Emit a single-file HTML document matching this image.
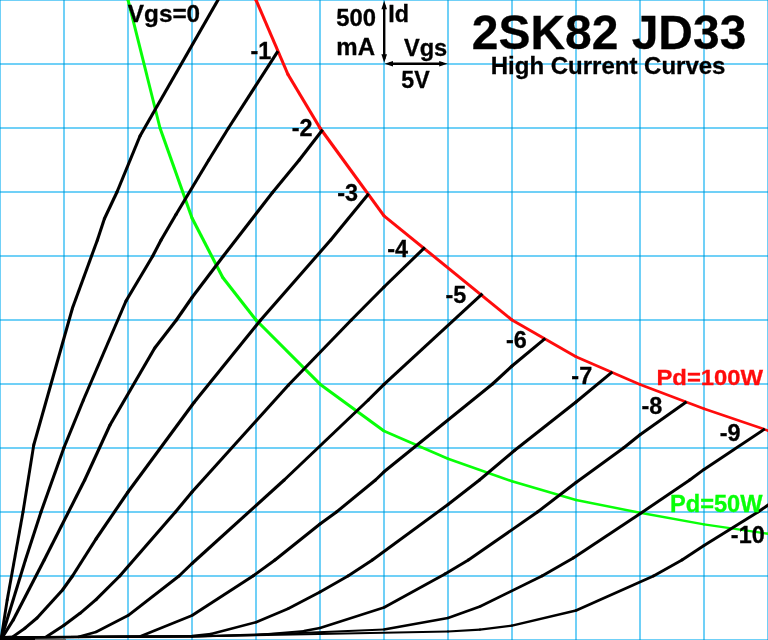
<!DOCTYPE html>
<html lang="en">
<head>
<meta charset="utf-8">
<title>2SK82 JD33 High Current Curves</title>
<style>
html,body{margin:0;padding:0;background:#fff;}
body{width:768px;height:640px;overflow:hidden;}
svg{display:block;}
text{font-family:"Liberation Sans",sans-serif;font-weight:bold;}
</style>
</head>
<body>
<svg width="768" height="640" viewBox="0 0 768 640">
<rect width="768" height="640" fill="#fff"/>
<g fill="rgb(112,208,247)" shape-rendering="crispEdges">
<rect x="-1" y="0" width="2" height="640"/>
<rect x="63" y="0" width="2" height="640"/>
<rect x="127" y="0" width="2" height="640"/>
<rect x="191" y="0" width="2" height="640"/>
<rect x="255" y="0" width="2" height="640"/>
<rect x="319" y="0" width="2" height="640"/>
<rect x="383" y="0" width="2" height="640"/>
<rect x="447" y="0" width="2" height="640"/>
<rect x="511" y="0" width="2" height="640"/>
<rect x="575" y="0" width="2" height="640"/>
<rect x="639" y="0" width="2" height="640"/>
<rect x="703" y="0" width="2" height="640"/>
<rect x="767" y="0" width="2" height="640"/>
<rect x="0" y="-1" width="768" height="2"/>
<rect x="0" y="63" width="768" height="2"/>
<rect x="0" y="127" width="768" height="2"/>
<rect x="0" y="191" width="768" height="2"/>
<rect x="0" y="255" width="768" height="2"/>
<rect x="0" y="319" width="768" height="2"/>
<rect x="0" y="383" width="768" height="2"/>
<rect x="0" y="447" width="768" height="2"/>
<rect x="0" y="511" width="768" height="2"/>
<rect x="0" y="575" width="768" height="2"/>
<rect x="0" y="639" width="768" height="2"/>
</g>
<g fill="rgb(52,178,226)" shape-rendering="crispEdges">
<rect x="-1" y="-1" width="2" height="2"/>
<rect x="-1" y="63" width="2" height="2"/>
<rect x="-1" y="127" width="2" height="2"/>
<rect x="-1" y="191" width="2" height="2"/>
<rect x="-1" y="255" width="2" height="2"/>
<rect x="-1" y="319" width="2" height="2"/>
<rect x="-1" y="383" width="2" height="2"/>
<rect x="-1" y="447" width="2" height="2"/>
<rect x="-1" y="511" width="2" height="2"/>
<rect x="-1" y="575" width="2" height="2"/>
<rect x="-1" y="639" width="2" height="2"/>
<rect x="63" y="-1" width="2" height="2"/>
<rect x="63" y="63" width="2" height="2"/>
<rect x="63" y="127" width="2" height="2"/>
<rect x="63" y="191" width="2" height="2"/>
<rect x="63" y="255" width="2" height="2"/>
<rect x="63" y="319" width="2" height="2"/>
<rect x="63" y="383" width="2" height="2"/>
<rect x="63" y="447" width="2" height="2"/>
<rect x="63" y="511" width="2" height="2"/>
<rect x="63" y="575" width="2" height="2"/>
<rect x="63" y="639" width="2" height="2"/>
<rect x="127" y="-1" width="2" height="2"/>
<rect x="127" y="63" width="2" height="2"/>
<rect x="127" y="127" width="2" height="2"/>
<rect x="127" y="191" width="2" height="2"/>
<rect x="127" y="255" width="2" height="2"/>
<rect x="127" y="319" width="2" height="2"/>
<rect x="127" y="383" width="2" height="2"/>
<rect x="127" y="447" width="2" height="2"/>
<rect x="127" y="511" width="2" height="2"/>
<rect x="127" y="575" width="2" height="2"/>
<rect x="127" y="639" width="2" height="2"/>
<rect x="191" y="-1" width="2" height="2"/>
<rect x="191" y="63" width="2" height="2"/>
<rect x="191" y="127" width="2" height="2"/>
<rect x="191" y="191" width="2" height="2"/>
<rect x="191" y="255" width="2" height="2"/>
<rect x="191" y="319" width="2" height="2"/>
<rect x="191" y="383" width="2" height="2"/>
<rect x="191" y="447" width="2" height="2"/>
<rect x="191" y="511" width="2" height="2"/>
<rect x="191" y="575" width="2" height="2"/>
<rect x="191" y="639" width="2" height="2"/>
<rect x="255" y="-1" width="2" height="2"/>
<rect x="255" y="63" width="2" height="2"/>
<rect x="255" y="127" width="2" height="2"/>
<rect x="255" y="191" width="2" height="2"/>
<rect x="255" y="255" width="2" height="2"/>
<rect x="255" y="319" width="2" height="2"/>
<rect x="255" y="383" width="2" height="2"/>
<rect x="255" y="447" width="2" height="2"/>
<rect x="255" y="511" width="2" height="2"/>
<rect x="255" y="575" width="2" height="2"/>
<rect x="255" y="639" width="2" height="2"/>
<rect x="319" y="-1" width="2" height="2"/>
<rect x="319" y="63" width="2" height="2"/>
<rect x="319" y="127" width="2" height="2"/>
<rect x="319" y="191" width="2" height="2"/>
<rect x="319" y="255" width="2" height="2"/>
<rect x="319" y="319" width="2" height="2"/>
<rect x="319" y="383" width="2" height="2"/>
<rect x="319" y="447" width="2" height="2"/>
<rect x="319" y="511" width="2" height="2"/>
<rect x="319" y="575" width="2" height="2"/>
<rect x="319" y="639" width="2" height="2"/>
<rect x="383" y="-1" width="2" height="2"/>
<rect x="383" y="63" width="2" height="2"/>
<rect x="383" y="127" width="2" height="2"/>
<rect x="383" y="191" width="2" height="2"/>
<rect x="383" y="255" width="2" height="2"/>
<rect x="383" y="319" width="2" height="2"/>
<rect x="383" y="383" width="2" height="2"/>
<rect x="383" y="447" width="2" height="2"/>
<rect x="383" y="511" width="2" height="2"/>
<rect x="383" y="575" width="2" height="2"/>
<rect x="383" y="639" width="2" height="2"/>
<rect x="447" y="-1" width="2" height="2"/>
<rect x="447" y="63" width="2" height="2"/>
<rect x="447" y="127" width="2" height="2"/>
<rect x="447" y="191" width="2" height="2"/>
<rect x="447" y="255" width="2" height="2"/>
<rect x="447" y="319" width="2" height="2"/>
<rect x="447" y="383" width="2" height="2"/>
<rect x="447" y="447" width="2" height="2"/>
<rect x="447" y="511" width="2" height="2"/>
<rect x="447" y="575" width="2" height="2"/>
<rect x="447" y="639" width="2" height="2"/>
<rect x="511" y="-1" width="2" height="2"/>
<rect x="511" y="63" width="2" height="2"/>
<rect x="511" y="127" width="2" height="2"/>
<rect x="511" y="191" width="2" height="2"/>
<rect x="511" y="255" width="2" height="2"/>
<rect x="511" y="319" width="2" height="2"/>
<rect x="511" y="383" width="2" height="2"/>
<rect x="511" y="447" width="2" height="2"/>
<rect x="511" y="511" width="2" height="2"/>
<rect x="511" y="575" width="2" height="2"/>
<rect x="511" y="639" width="2" height="2"/>
<rect x="575" y="-1" width="2" height="2"/>
<rect x="575" y="63" width="2" height="2"/>
<rect x="575" y="127" width="2" height="2"/>
<rect x="575" y="191" width="2" height="2"/>
<rect x="575" y="255" width="2" height="2"/>
<rect x="575" y="319" width="2" height="2"/>
<rect x="575" y="383" width="2" height="2"/>
<rect x="575" y="447" width="2" height="2"/>
<rect x="575" y="511" width="2" height="2"/>
<rect x="575" y="575" width="2" height="2"/>
<rect x="575" y="639" width="2" height="2"/>
<rect x="639" y="-1" width="2" height="2"/>
<rect x="639" y="63" width="2" height="2"/>
<rect x="639" y="127" width="2" height="2"/>
<rect x="639" y="191" width="2" height="2"/>
<rect x="639" y="255" width="2" height="2"/>
<rect x="639" y="319" width="2" height="2"/>
<rect x="639" y="383" width="2" height="2"/>
<rect x="639" y="447" width="2" height="2"/>
<rect x="639" y="511" width="2" height="2"/>
<rect x="639" y="575" width="2" height="2"/>
<rect x="639" y="639" width="2" height="2"/>
<rect x="703" y="-1" width="2" height="2"/>
<rect x="703" y="63" width="2" height="2"/>
<rect x="703" y="127" width="2" height="2"/>
<rect x="703" y="191" width="2" height="2"/>
<rect x="703" y="255" width="2" height="2"/>
<rect x="703" y="319" width="2" height="2"/>
<rect x="703" y="383" width="2" height="2"/>
<rect x="703" y="447" width="2" height="2"/>
<rect x="703" y="511" width="2" height="2"/>
<rect x="703" y="575" width="2" height="2"/>
<rect x="703" y="639" width="2" height="2"/>
<rect x="767" y="-1" width="2" height="2"/>
<rect x="767" y="63" width="2" height="2"/>
<rect x="767" y="127" width="2" height="2"/>
<rect x="767" y="191" width="2" height="2"/>
<rect x="767" y="255" width="2" height="2"/>
<rect x="767" y="319" width="2" height="2"/>
<rect x="767" y="383" width="2" height="2"/>
<rect x="767" y="447" width="2" height="2"/>
<rect x="767" y="511" width="2" height="2"/>
<rect x="767" y="575" width="2" height="2"/>
<rect x="767" y="639" width="2" height="2"/>
</g>
<rect x="0" y="636" width="35" height="4" fill="#000"/>
<rect x="35" y="638.8" width="31" height="1.2" fill="#666"/>
<g stroke="#08ff08" fill="#08ff08">
<line x1="127.25" y1="-3.00" x2="128.00" y2="0.00" stroke-width="3.01"/>
<line x1="128.00" y1="0.00" x2="160.00" y2="128.00" stroke-width="3.01"/>
<line x1="160.00" y1="128.00" x2="192.00" y2="218.00" stroke-width="3.08"/>
<line x1="192.00" y1="218.00" x2="222.75" y2="277.50" stroke-width="3.13"/>
<line x1="222.75" y1="277.50" x2="256.00" y2="320.00" stroke-width="3.14"/>
<line x1="256.00" y1="320.00" x2="320.00" y2="384.20" stroke-width="3.10"/>
<line x1="320.00" y1="384.20" x2="384.00" y2="431.00" stroke-width="2.99"/>
<line x1="384.00" y1="431.00" x2="448.00" y2="458.75" stroke-width="2.74"/>
<line x1="448.00" y1="458.75" x2="512.00" y2="481.30" stroke-width="2.65"/>
<line x1="512.00" y1="481.30" x2="576.00" y2="500.00" stroke-width="2.57"/>
<line x1="576.00" y1="500.00" x2="640.00" y2="512.75" stroke-width="2.43"/>
<line x1="640.00" y1="512.75" x2="704.00" y2="524.40" stroke-width="2.40"/>
<line x1="704.00" y1="524.40" x2="768.00" y2="533.75" stroke-width="2.34"/>
<line x1="768.00" y1="533.75" x2="772.00" y2="534.30" stroke-width="2.33"/>
<circle cx="128.00" cy="0.00" r="1.51" stroke="none"/>
<circle cx="160.00" cy="128.00" r="1.51" stroke="none"/>
<circle cx="192.00" cy="218.00" r="1.54" stroke="none"/>
<circle cx="222.75" cy="277.50" r="1.56" stroke="none"/>
<circle cx="256.00" cy="320.00" r="1.55" stroke="none"/>
<circle cx="320.00" cy="384.20" r="1.49" stroke="none"/>
<circle cx="384.00" cy="431.00" r="1.37" stroke="none"/>
<circle cx="448.00" cy="458.75" r="1.32" stroke="none"/>
<circle cx="512.00" cy="481.30" r="1.28" stroke="none"/>
<circle cx="576.00" cy="500.00" r="1.21" stroke="none"/>
<circle cx="640.00" cy="512.75" r="1.20" stroke="none"/>
<circle cx="704.00" cy="524.40" r="1.17" stroke="none"/>
<circle cx="768.00" cy="533.75" r="1.17" stroke="none"/>
</g>
<g stroke="#ff0c0c" fill="#ff0c0c">
<line x1="254.70" y1="-3.00" x2="256.00" y2="0.00" stroke-width="3.11"/>
<line x1="256.00" y1="0.00" x2="288.00" y2="74.50" stroke-width="3.11"/>
<line x1="288.00" y1="74.50" x2="320.00" y2="128.00" stroke-width="3.14"/>
<line x1="320.00" y1="128.00" x2="384.00" y2="215.80" stroke-width="3.14"/>
<line x1="384.00" y1="215.80" x2="512.00" y2="320.00" stroke-width="3.03"/>
<line x1="512.00" y1="320.00" x2="576.00" y2="356.70" stroke-width="2.88"/>
<line x1="576.00" y1="356.70" x2="640.00" y2="384.40" stroke-width="2.74"/>
<line x1="640.00" y1="384.40" x2="704.00" y2="408.75" stroke-width="2.68"/>
<line x1="704.00" y1="408.75" x2="768.00" y2="430.60" stroke-width="2.63"/>
<line x1="768.00" y1="430.60" x2="772.00" y2="431.90" stroke-width="2.61"/>
<circle cx="256.00" cy="0.00" r="1.55" stroke="none"/>
<circle cx="288.00" cy="74.50" r="1.55" stroke="none"/>
<circle cx="320.00" cy="128.00" r="1.57" stroke="none"/>
<circle cx="384.00" cy="215.80" r="1.52" stroke="none"/>
<circle cx="512.00" cy="320.00" r="1.44" stroke="none"/>
<circle cx="576.00" cy="356.70" r="1.37" stroke="none"/>
<circle cx="640.00" cy="384.40" r="1.34" stroke="none"/>
<circle cx="704.00" cy="408.75" r="1.32" stroke="none"/>
<circle cx="768.00" cy="430.60" r="1.31" stroke="none"/>
</g>
<g stroke="#000" fill="#000">
<line x1="1.00" y1="639.50" x2="7.20" y2="600.00" stroke-width="2.94"/>
<line x1="7.20" y1="600.00" x2="23.00" y2="512.00" stroke-width="2.96"/>
<line x1="23.00" y1="512.00" x2="33.75" y2="445.00" stroke-width="2.95"/>
<line x1="33.75" y1="445.00" x2="72.50" y2="308.00" stroke-width="3.04"/>
<line x1="72.50" y1="308.00" x2="97.40" y2="240.00" stroke-width="3.08"/>
<line x1="97.40" y1="240.00" x2="104.40" y2="218.75" stroke-width="3.06"/>
<line x1="104.40" y1="218.75" x2="117.00" y2="192.00" stroke-width="3.12"/>
<line x1="117.00" y1="192.00" x2="140.00" y2="136.00" stroke-width="3.10"/>
<line x1="140.00" y1="136.00" x2="219.70" y2="-3.00" stroke-width="3.14"/>
<circle cx="7.20" cy="600.00" r="1.47" stroke="none"/>
<circle cx="23.00" cy="512.00" r="1.47" stroke="none"/>
<circle cx="33.75" cy="445.00" r="1.47" stroke="none"/>
<circle cx="72.50" cy="308.00" r="1.52" stroke="none"/>
<circle cx="97.40" cy="240.00" r="1.53" stroke="none"/>
<circle cx="104.40" cy="218.75" r="1.53" stroke="none"/>
<circle cx="117.00" cy="192.00" r="1.55" stroke="none"/>
<circle cx="140.00" cy="136.00" r="1.55" stroke="none"/>
</g>
<g stroke="#000" fill="#000">
<line x1="1.00" y1="639.50" x2="25.40" y2="560.00" stroke-width="3.05"/>
<line x1="25.40" y1="560.00" x2="41.00" y2="512.00" stroke-width="3.06"/>
<line x1="41.00" y1="512.00" x2="64.00" y2="447.50" stroke-width="3.08"/>
<line x1="64.00" y1="447.50" x2="83.40" y2="400.00" stroke-width="3.10"/>
<line x1="83.40" y1="400.00" x2="126.00" y2="301.00" stroke-width="3.11"/>
<line x1="126.00" y1="301.00" x2="152.75" y2="256.00" stroke-width="3.14"/>
<line x1="152.75" y1="256.00" x2="161.10" y2="240.00" stroke-width="3.13"/>
<line x1="161.10" y1="240.00" x2="176.00" y2="214.50" stroke-width="3.14"/>
<line x1="176.00" y1="214.50" x2="208.75" y2="160.00" stroke-width="3.14"/>
<line x1="208.75" y1="160.00" x2="228.50" y2="128.00" stroke-width="3.14"/>
<line x1="228.50" y1="128.00" x2="277.94" y2="51.16" stroke-width="3.14"/>
<circle cx="25.40" cy="560.00" r="1.52" stroke="none"/>
<circle cx="41.00" cy="512.00" r="1.53" stroke="none"/>
<circle cx="64.00" cy="447.50" r="1.54" stroke="none"/>
<circle cx="83.40" cy="400.00" r="1.55" stroke="none"/>
<circle cx="126.00" cy="301.00" r="1.55" stroke="none"/>
<circle cx="152.75" cy="256.00" r="1.57" stroke="none"/>
<circle cx="161.10" cy="240.00" r="1.57" stroke="none"/>
<circle cx="176.00" cy="214.50" r="1.57" stroke="none"/>
<circle cx="208.75" cy="160.00" r="1.57" stroke="none"/>
<circle cx="228.50" cy="128.00" r="1.57" stroke="none"/>
</g>
<g stroke="#000" fill="#000">
<line x1="1.00" y1="639.50" x2="13.20" y2="620.00" stroke-width="3.14"/>
<line x1="13.20" y1="620.00" x2="44.20" y2="560.00" stroke-width="3.13"/>
<line x1="44.20" y1="560.00" x2="84.70" y2="480.00" stroke-width="3.13"/>
<line x1="84.70" y1="480.00" x2="110.00" y2="425.00" stroke-width="3.12"/>
<line x1="110.00" y1="425.00" x2="154.75" y2="348.00" stroke-width="3.14"/>
<line x1="154.75" y1="348.00" x2="176.40" y2="320.00" stroke-width="3.14"/>
<line x1="176.40" y1="320.00" x2="192.00" y2="297.50" stroke-width="3.14"/>
<line x1="192.00" y1="297.50" x2="223.40" y2="256.00" stroke-width="3.14"/>
<line x1="223.40" y1="256.00" x2="272.50" y2="192.50" stroke-width="3.14"/>
<line x1="272.50" y1="192.50" x2="299.25" y2="160.00" stroke-width="3.13"/>
<line x1="299.25" y1="160.00" x2="322.61" y2="129.81" stroke-width="3.14"/>
<circle cx="13.20" cy="620.00" r="1.56" stroke="none"/>
<circle cx="44.20" cy="560.00" r="1.56" stroke="none"/>
<circle cx="84.70" cy="480.00" r="1.56" stroke="none"/>
<circle cx="110.00" cy="425.00" r="1.56" stroke="none"/>
<circle cx="154.75" cy="348.00" r="1.57" stroke="none"/>
<circle cx="176.40" cy="320.00" r="1.57" stroke="none"/>
<circle cx="192.00" cy="297.50" r="1.57" stroke="none"/>
<circle cx="223.40" cy="256.00" r="1.57" stroke="none"/>
<circle cx="272.50" cy="192.50" r="1.57" stroke="none"/>
<circle cx="299.25" cy="160.00" r="1.57" stroke="none"/>
</g>
<g stroke="#000" fill="#000">
<line x1="0.00" y1="637.40" x2="13.00" y2="636.60" stroke-width="2.20"/>
<line x1="13.00" y1="636.60" x2="25.00" y2="628.20" stroke-width="2.97"/>
<line x1="25.00" y1="628.20" x2="37.00" y2="618.00" stroke-width="3.05"/>
<line x1="37.00" y1="618.00" x2="62.50" y2="590.00" stroke-width="3.12"/>
<line x1="62.50" y1="590.00" x2="72.50" y2="576.00" stroke-width="3.14"/>
<line x1="72.50" y1="576.00" x2="96.00" y2="539.00" stroke-width="3.14"/>
<line x1="96.00" y1="539.00" x2="128.00" y2="492.00" stroke-width="3.14"/>
<line x1="128.00" y1="492.00" x2="194.00" y2="402.50" stroke-width="3.14"/>
<line x1="194.00" y1="402.50" x2="260.70" y2="320.00" stroke-width="3.13"/>
<line x1="260.70" y1="320.00" x2="330.70" y2="240.00" stroke-width="3.12"/>
<line x1="330.70" y1="240.00" x2="368.63" y2="193.73" stroke-width="3.13"/>
<circle cx="13.00" cy="636.60" r="1.10" stroke="none"/>
<circle cx="25.00" cy="628.20" r="1.49" stroke="none"/>
<circle cx="37.00" cy="618.00" r="1.52" stroke="none"/>
<circle cx="62.50" cy="590.00" r="1.56" stroke="none"/>
<circle cx="72.50" cy="576.00" r="1.57" stroke="none"/>
<circle cx="96.00" cy="539.00" r="1.57" stroke="none"/>
<circle cx="128.00" cy="492.00" r="1.57" stroke="none"/>
<circle cx="194.00" cy="402.50" r="1.57" stroke="none"/>
<circle cx="260.70" cy="320.00" r="1.56" stroke="none"/>
<circle cx="330.70" cy="240.00" r="1.56" stroke="none"/>
</g>
<g stroke="#000" fill="#000">
<line x1="0.00" y1="637.40" x2="46.00" y2="637.00" stroke-width="2.11"/>
<line x1="46.00" y1="637.00" x2="64.00" y2="625.30" stroke-width="2.94"/>
<line x1="64.00" y1="625.30" x2="80.00" y2="613.30" stroke-width="3.00"/>
<line x1="80.00" y1="613.30" x2="96.00" y2="599.70" stroke-width="3.05"/>
<line x1="96.00" y1="599.70" x2="119.75" y2="576.00" stroke-width="3.09"/>
<line x1="119.75" y1="576.00" x2="175.40" y2="512.00" stroke-width="3.12"/>
<line x1="175.40" y1="512.00" x2="192.00" y2="492.00" stroke-width="3.13"/>
<line x1="192.00" y1="492.00" x2="288.50" y2="385.00" stroke-width="3.12"/>
<line x1="288.50" y1="385.00" x2="351.30" y2="320.00" stroke-width="3.10"/>
<line x1="351.30" y1="320.00" x2="384.00" y2="287.00" stroke-width="3.10"/>
<line x1="384.00" y1="287.00" x2="424.92" y2="247.30" stroke-width="3.09"/>
<circle cx="46.00" cy="637.00" r="1.06" stroke="none"/>
<circle cx="64.00" cy="625.30" r="1.47" stroke="none"/>
<circle cx="80.00" cy="613.30" r="1.50" stroke="none"/>
<circle cx="96.00" cy="599.70" r="1.52" stroke="none"/>
<circle cx="119.75" cy="576.00" r="1.55" stroke="none"/>
<circle cx="175.40" cy="512.00" r="1.56" stroke="none"/>
<circle cx="192.00" cy="492.00" r="1.56" stroke="none"/>
<circle cx="288.50" cy="385.00" r="1.55" stroke="none"/>
<circle cx="351.30" cy="320.00" r="1.55" stroke="none"/>
<circle cx="384.00" cy="287.00" r="1.54" stroke="none"/>
</g>
<g stroke="#000" fill="#000">
<line x1="0.00" y1="637.40" x2="78.00" y2="637.00" stroke-width="2.11"/>
<line x1="78.00" y1="637.00" x2="96.00" y2="632.00" stroke-width="2.55"/>
<line x1="96.00" y1="632.00" x2="128.00" y2="615.60" stroke-width="2.83"/>
<line x1="128.00" y1="615.60" x2="179.00" y2="576.00" stroke-width="3.01"/>
<line x1="179.00" y1="576.00" x2="192.00" y2="563.50" stroke-width="3.08"/>
<line x1="192.00" y1="563.50" x2="284.20" y2="480.00" stroke-width="3.07"/>
<line x1="284.20" y1="480.00" x2="368.30" y2="400.00" stroke-width="3.08"/>
<line x1="368.30" y1="400.00" x2="384.00" y2="384.40" stroke-width="3.09"/>
<line x1="384.00" y1="384.40" x2="482.49" y2="293.72" stroke-width="3.07"/>
<circle cx="78.00" cy="637.00" r="1.05" stroke="none"/>
<circle cx="96.00" cy="632.00" r="1.27" stroke="none"/>
<circle cx="128.00" cy="615.60" r="1.41" stroke="none"/>
<circle cx="179.00" cy="576.00" r="1.51" stroke="none"/>
<circle cx="192.00" cy="563.50" r="1.53" stroke="none"/>
<circle cx="284.20" cy="480.00" r="1.53" stroke="none"/>
<circle cx="368.30" cy="400.00" r="1.54" stroke="none"/>
<circle cx="384.00" cy="384.40" r="1.54" stroke="none"/>
</g>
<g stroke="#000" fill="#000">
<line x1="0.00" y1="637.40" x2="140.00" y2="636.50" stroke-width="2.11"/>
<line x1="140.00" y1="636.50" x2="192.00" y2="615.50" stroke-width="2.71"/>
<line x1="192.00" y1="615.50" x2="253.00" y2="576.00" stroke-width="2.94"/>
<line x1="253.00" y1="576.00" x2="275.00" y2="560.00" stroke-width="2.99"/>
<line x1="275.00" y1="560.00" x2="320.00" y2="524.00" stroke-width="3.03"/>
<line x1="320.00" y1="524.00" x2="336.50" y2="512.00" stroke-width="2.99"/>
<line x1="336.50" y1="512.00" x2="375.50" y2="480.00" stroke-width="3.03"/>
<line x1="375.50" y1="480.00" x2="384.00" y2="471.80" stroke-width="3.09"/>
<line x1="384.00" y1="471.80" x2="492.50" y2="384.00" stroke-width="3.03"/>
<line x1="492.50" y1="384.00" x2="512.00" y2="366.00" stroke-width="3.07"/>
<line x1="512.00" y1="366.00" x2="545.27" y2="338.36" stroke-width="3.04"/>
<circle cx="140.00" cy="636.50" r="1.06" stroke="none"/>
<circle cx="192.00" cy="615.50" r="1.35" stroke="none"/>
<circle cx="253.00" cy="576.00" r="1.47" stroke="none"/>
<circle cx="275.00" cy="560.00" r="1.49" stroke="none"/>
<circle cx="320.00" cy="524.00" r="1.49" stroke="none"/>
<circle cx="336.50" cy="512.00" r="1.49" stroke="none"/>
<circle cx="375.50" cy="480.00" r="1.52" stroke="none"/>
<circle cx="384.00" cy="471.80" r="1.51" stroke="none"/>
<circle cx="492.50" cy="384.00" r="1.51" stroke="none"/>
<circle cx="512.00" cy="366.00" r="1.52" stroke="none"/>
</g>
<g stroke="#000" fill="#000">
<line x1="0.00" y1="637.40" x2="192.00" y2="636.00" stroke-width="2.11"/>
<line x1="192.00" y1="636.00" x2="211.00" y2="634.00" stroke-width="2.28"/>
<line x1="211.00" y1="634.00" x2="256.00" y2="622.30" stroke-width="2.52"/>
<line x1="256.00" y1="622.30" x2="288.00" y2="608.75" stroke-width="2.73"/>
<line x1="288.00" y1="608.75" x2="320.00" y2="592.00" stroke-width="2.84"/>
<line x1="320.00" y1="592.00" x2="348.00" y2="576.00" stroke-width="2.88"/>
<line x1="348.00" y1="576.00" x2="372.40" y2="560.00" stroke-width="2.94"/>
<line x1="372.40" y1="560.00" x2="448.00" y2="504.50" stroke-width="2.99"/>
<line x1="448.00" y1="504.50" x2="479.50" y2="480.00" stroke-width="3.01"/>
<line x1="479.50" y1="480.00" x2="514.75" y2="450.25" stroke-width="3.04"/>
<line x1="514.75" y1="450.25" x2="576.00" y2="402.00" stroke-width="3.02"/>
<line x1="576.00" y1="402.00" x2="612.37" y2="371.86" stroke-width="3.04"/>
<circle cx="192.00" cy="636.00" r="1.06" stroke="none"/>
<circle cx="211.00" cy="634.00" r="1.14" stroke="none"/>
<circle cx="256.00" cy="622.30" r="1.26" stroke="none"/>
<circle cx="288.00" cy="608.75" r="1.37" stroke="none"/>
<circle cx="320.00" cy="592.00" r="1.42" stroke="none"/>
<circle cx="348.00" cy="576.00" r="1.44" stroke="none"/>
<circle cx="372.40" cy="560.00" r="1.47" stroke="none"/>
<circle cx="448.00" cy="504.50" r="1.50" stroke="none"/>
<circle cx="479.50" cy="480.00" r="1.51" stroke="none"/>
<circle cx="514.75" cy="450.25" r="1.51" stroke="none"/>
<circle cx="576.00" cy="402.00" r="1.51" stroke="none"/>
</g>
<g stroke="#000" fill="#000">
<line x1="0.00" y1="637.40" x2="192.00" y2="636.50" stroke-width="2.11"/>
<line x1="192.00" y1="636.50" x2="256.00" y2="635.00" stroke-width="2.14"/>
<line x1="256.00" y1="635.00" x2="304.00" y2="631.00" stroke-width="2.24"/>
<line x1="304.00" y1="631.00" x2="320.00" y2="628.00" stroke-width="2.41"/>
<line x1="320.00" y1="628.00" x2="384.00" y2="607.50" stroke-width="2.60"/>
<line x1="384.00" y1="607.50" x2="445.00" y2="574.00" stroke-width="2.86"/>
<line x1="445.00" y1="574.00" x2="468.40" y2="560.00" stroke-width="2.90"/>
<line x1="468.40" y1="560.00" x2="537.50" y2="512.00" stroke-width="2.97"/>
<line x1="537.50" y1="512.00" x2="576.00" y2="482.50" stroke-width="3.01"/>
<line x1="576.00" y1="482.50" x2="623.50" y2="448.00" stroke-width="2.99"/>
<line x1="623.50" y1="448.00" x2="640.00" y2="434.80" stroke-width="3.03"/>
<line x1="640.00" y1="434.80" x2="686.57" y2="401.72" stroke-width="2.98"/>
<circle cx="192.00" cy="636.50" r="1.05" stroke="none"/>
<circle cx="256.00" cy="635.00" r="1.07" stroke="none"/>
<circle cx="304.00" cy="631.00" r="1.12" stroke="none"/>
<circle cx="320.00" cy="628.00" r="1.21" stroke="none"/>
<circle cx="384.00" cy="607.50" r="1.30" stroke="none"/>
<circle cx="445.00" cy="574.00" r="1.43" stroke="none"/>
<circle cx="468.40" cy="560.00" r="1.45" stroke="none"/>
<circle cx="537.50" cy="512.00" r="1.48" stroke="none"/>
<circle cx="576.00" cy="482.50" r="1.49" stroke="none"/>
<circle cx="623.50" cy="448.00" r="1.49" stroke="none"/>
<circle cx="640.00" cy="434.80" r="1.49" stroke="none"/>
</g>
<g stroke="#000" fill="#000">
<line x1="0.00" y1="637.40" x2="192.00" y2="636.50" stroke-width="2.11"/>
<line x1="192.00" y1="636.50" x2="288.00" y2="633.50" stroke-width="2.15"/>
<line x1="288.00" y1="633.50" x2="384.00" y2="629.50" stroke-width="2.17"/>
<line x1="384.00" y1="629.50" x2="448.00" y2="618.00" stroke-width="2.40"/>
<line x1="448.00" y1="618.00" x2="480.00" y2="606.50" stroke-width="2.66"/>
<line x1="480.00" y1="606.50" x2="542.00" y2="576.00" stroke-width="2.81"/>
<line x1="542.00" y1="576.00" x2="573.30" y2="558.00" stroke-width="2.88"/>
<line x1="573.30" y1="558.00" x2="640.00" y2="513.75" stroke-width="2.95"/>
<line x1="640.00" y1="513.75" x2="689.75" y2="480.00" stroke-width="2.96"/>
<line x1="689.75" y1="480.00" x2="704.00" y2="469.40" stroke-width="3.00"/>
<line x1="704.00" y1="469.40" x2="764.83" y2="428.85" stroke-width="2.95"/>
<circle cx="192.00" cy="636.50" r="1.05" stroke="none"/>
<circle cx="288.00" cy="633.50" r="1.08" stroke="none"/>
<circle cx="384.00" cy="629.50" r="1.09" stroke="none"/>
<circle cx="448.00" cy="618.00" r="1.20" stroke="none"/>
<circle cx="480.00" cy="606.50" r="1.33" stroke="none"/>
<circle cx="542.00" cy="576.00" r="1.40" stroke="none"/>
<circle cx="573.30" cy="558.00" r="1.44" stroke="none"/>
<circle cx="640.00" cy="513.75" r="1.47" stroke="none"/>
<circle cx="689.75" cy="480.00" r="1.48" stroke="none"/>
<circle cx="704.00" cy="469.40" r="1.47" stroke="none"/>
</g>
<g stroke="#000" fill="#000">
<line x1="0.00" y1="637.40" x2="192.00" y2="636.50" stroke-width="2.11"/>
<line x1="192.00" y1="636.50" x2="448.00" y2="631.50" stroke-width="2.13"/>
<line x1="448.00" y1="631.50" x2="480.00" y2="629.60" stroke-width="2.20"/>
<line x1="480.00" y1="629.60" x2="512.00" y2="625.60" stroke-width="2.31"/>
<line x1="512.00" y1="625.60" x2="576.00" y2="610.50" stroke-width="2.48"/>
<line x1="576.00" y1="610.50" x2="653.50" y2="576.00" stroke-width="2.76"/>
<line x1="653.50" y1="576.00" x2="682.00" y2="560.00" stroke-width="2.87"/>
<line x1="682.00" y1="560.00" x2="704.00" y2="545.60" stroke-width="2.94"/>
<line x1="704.00" y1="545.60" x2="758.00" y2="512.00" stroke-width="2.92"/>
<line x1="758.00" y1="512.00" x2="772.00" y2="502.30" stroke-width="2.97"/>
<circle cx="192.00" cy="636.50" r="1.05" stroke="none"/>
<circle cx="448.00" cy="631.50" r="1.07" stroke="none"/>
<circle cx="480.00" cy="629.60" r="1.10" stroke="none"/>
<circle cx="512.00" cy="625.60" r="1.15" stroke="none"/>
<circle cx="576.00" cy="610.50" r="1.24" stroke="none"/>
<circle cx="653.50" cy="576.00" r="1.38" stroke="none"/>
<circle cx="682.00" cy="560.00" r="1.43" stroke="none"/>
<circle cx="704.00" cy="545.60" r="1.46" stroke="none"/>
<circle cx="758.00" cy="512.00" r="1.46" stroke="none"/>
</g>
<g stroke="#000" stroke-width="2.4" fill="#000">
<line x1="384.2" y1="5" x2="384.2" y2="59"/>
<line x1="389" y1="63.8" x2="443" y2="63.8"/>
<path d="M384.2 0.8 L387 9.3 L381.4 9.3 Z" stroke="none"/>
<path d="M384.2 62.8 L387 54.3 L381.4 54.3 Z" stroke="none"/>
<path d="M384.6 63.8 L393 61 L393 66.6 Z" stroke="none"/>
<path d="M447.6 63.8 L439.2 61 L439.2 66.6 Z" stroke="none"/>
</g>
<text x="127.86" y="21.6" font-size="24.3" fill="#000" stroke="#000" stroke-width="0.3">Vgs=0</text>
<text x="250.56" y="58.5" font-size="23.4" fill="#000" stroke="#000" stroke-width="0.3">-1</text>
<text x="291.66" y="136.3" font-size="23.4" fill="#000" stroke="#000" stroke-width="0.3">-2</text>
<text x="337.31" y="201.2" font-size="23.4" fill="#000" stroke="#000" stroke-width="0.3">-3</text>
<text x="387.31" y="256.6" font-size="23.4" fill="#000" stroke="#000" stroke-width="0.3">-4</text>
<text x="445.46" y="303.2" font-size="23.4" fill="#000" stroke="#000" stroke-width="0.3">-5</text>
<text x="506.06" y="348" font-size="23.4" fill="#000" stroke="#000" stroke-width="0.3">-6</text>
<text x="571.36" y="384.3" font-size="23.4" fill="#000" stroke="#000" stroke-width="0.3">-7</text>
<text x="641.56" y="414.4" font-size="23.4" fill="#000" stroke="#000" stroke-width="0.3">-8</text>
<text x="719.66" y="441.3" font-size="23.4" fill="#000" stroke="#000" stroke-width="0.3">-9</text>
<text x="730.86" y="543.1" font-size="23.4" fill="#000" stroke="#000" stroke-width="0.3">-10</text>
<text transform="translate(656.45 384.5) scale(1 0.96)" font-size="23.85" fill="#ff0c0c" stroke="#ff0c0c" stroke-width="0.3">Pd=100W</text>
<text transform="translate(670.07 511.5) scale(1 1.02)" font-size="23.6" fill="#08ff08" stroke="#08ff08" stroke-width="0.3">Pd=50W</text>
<text x="336.29" y="25.5" font-size="23.8" fill="#000" stroke="#000" stroke-width="0.3">500</text>
<text x="336.34" y="54.8" font-size="24" fill="#000" stroke="#000" stroke-width="0.3">mA</text>
<text x="388.19" y="21.9" font-size="23.3" fill="#000" stroke="#000" stroke-width="0.3">Id</text>
<text x="403.96" y="55.5" font-size="23.6" fill="#000" stroke="#000" stroke-width="0.3">Vgs</text>
<text x="401.30" y="87.9" font-size="23.2" fill="#000" stroke="#000" stroke-width="0.3">5V</text>
<text x="471.82" y="48.8" font-size="47.95" fill="#000" stroke="#000" stroke-width="0.3">2SK82 JD33</text>
<text x="490.74" y="73.6" font-size="24" fill="#000" stroke="#000" stroke-width="0.3">High Current Curves</text>
</svg>
</body>
</html>
